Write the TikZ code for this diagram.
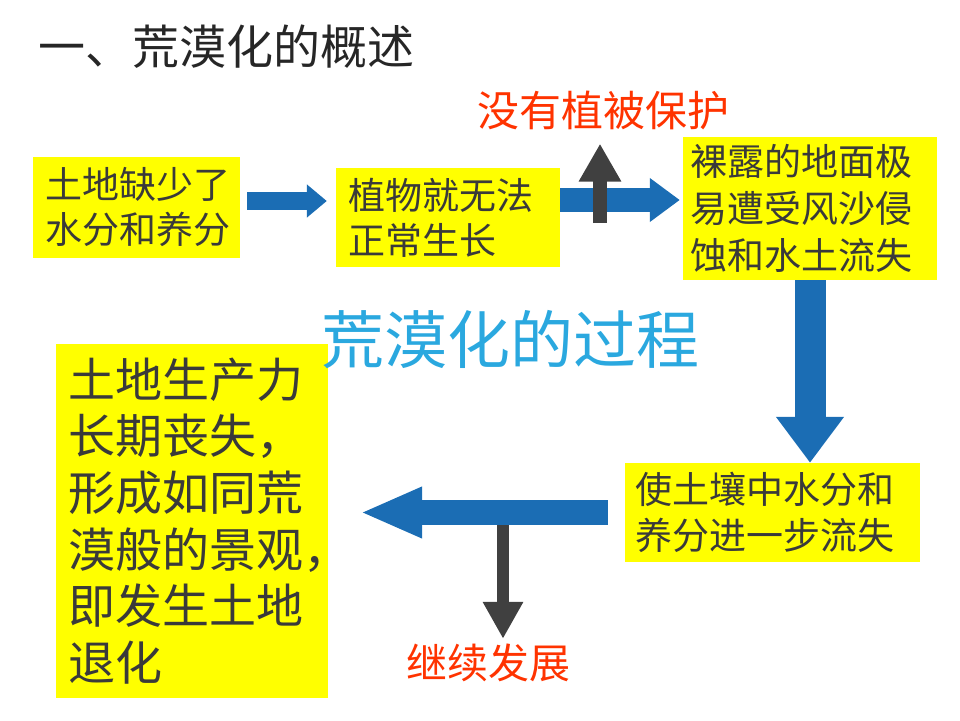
\documentclass[tikz,border=0pt]{standalone}
\usepackage{fontspec}
\setmainfont{Noto Sans CJK SC}
\usetikzlibrary{arrows.meta,calc}
\definecolor{boxyellow}{HTML}{FFFF00}
\definecolor{flowblue}{HTML}{1B6DB4}
\definecolor{forkgray}{HTML}{404040}
\definecolor{notered}{HTML}{FF3300}
\definecolor{titlecyan}{HTML}{2AA8DF}
\definecolor{boxtext}{HTML}{3A3A3A}

\begin{document}
\begin{tikzpicture}[x=1pt, y=-1pt,
    textbox/.style={rectangle, fill=boxyellow, text=boxtext, align=left, inner sep=0pt},
    notelabel/.style={inner sep=0pt, text=notered, font=\fontsize{42}{48}\selectfont},
    flowarrow/.style={flowblue},
    forkarrow/.style={forkgray}]
    \useasboundingbox (0,0) rectangle (960,720);

    % Title
    \node [anchor=west, inner sep=0pt, text=black!85, font=\fontsize{47}{52}\selectfont] (title) at (38,47) {一、荒漠化的概述};

    % Upper row of boxes
    \node [textbox, minimum width=207pt, minimum height=101pt, text width=183pt, font=\fontsize{37}{45}\selectfont] (dryland) at (136.5,207.5) {
        土地缺少了\\
        水分和养分
    };
    \node [textbox, minimum width=224pt, minimum height=99pt, text width=200pt, font=\fontsize{37}{45}\selectfont] (noplant) at (448,217.5) {
        植物就无法\\
        正常生长
    };
    \node [textbox, minimum width=254pt, minimum height=143pt, text width=240pt, font=\fontsize{37}{47}\selectfont] (erosion) at (810,208.5) {
        裸露的地面极\\
        易遭受风沙侵\\
        蚀和水土流失
    };

    % Lower row of boxes
    \node [textbox, minimum width=295pt, minimum height=99pt, text width=275pt, font=\fontsize{37}{46}\selectfont] (soilloss) at (772.5,512.5) {
        使土壤中水分和\\
        养分进一步流失
    };
    \node [textbox, minimum width=272pt, minimum height=354pt, text width=248pt, font=\fontsize{47}{56.6}\selectfont] (degrade) at (192,521) {
        土地生产力\\
        长期丧失，\\
        形成如同荒\\
        漠般的景观，\\
        即发生土地\\
        退化
    };

    % Centre heading and side labels
    \node [inner sep=0pt, text=titlecyan, font=\fontsize{63}{70}\selectfont] (process) at (510,340) {荒漠化的过程};
    \node [notelabel] (noveg) at (603,110) {没有植被保护};
    \node [notelabel, font=\fontsize{41}{46}\selectfont] (develop) at (488,663) {继续发展};

    % Branch points on the blue arrows
    \coordinate (upfork) at (600,223);
    \coordinate (downfork) at (503,525);

    % Main flow arrows
    \draw [flowarrow, line width=18pt, -{Triangle[length=20pt, width=32pt]}, shorten <=7pt, shorten >=9pt]
        ([yshift=6.5]dryland.east) -- ([yshift=6.5]dryland.east -| noplant.west);
    \draw [flowarrow, line width=24pt, -{Triangle[length=30pt, width=42pt]}, shorten >=3pt]
        ([yshift=17.5]noplant.east) -- ([yshift=17.5]noplant.east -| erosion.west);
    \draw [flowarrow, line width=31pt, -{Triangle[length=46pt, width=65pt]}]
        (erosion.south) -- (erosion.south |- soilloss.north);
    \draw [flowarrow, line width=25pt, -{Triangle[length=62pt, width=47pt]}, shorten <=17pt, shorten >=32pt]
        (soilloss.west) -- (soilloss.west -| degrade.east);

    % Side branches
    \draw [forkarrow, line width=14pt, -{Triangle[length=38pt, width=40pt]}, shorten >=14pt]
        (upfork) -- (upfork |- noveg.south);
    \draw [forkarrow, line width=12pt, -{Triangle[length=37pt, width=38pt]}, shorten >=5pt]
        (downfork) -- (downfork |- develop.north);

\end{tikzpicture}
\end{document}
